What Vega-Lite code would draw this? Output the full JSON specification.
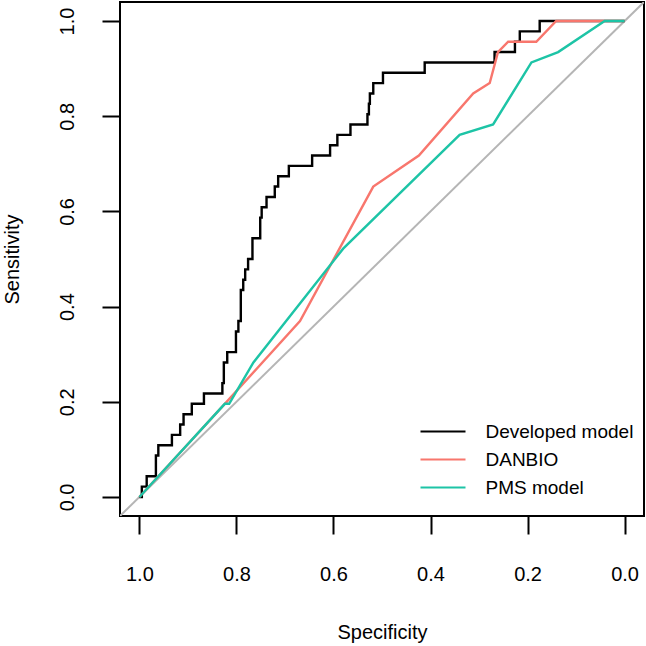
{
  "$schema": "https://vega.github.io/schema/vega-lite/v6.json",
  "width": 524,
  "height": 514,
  "autosize": {"type": "none"},
  "padding": {"left": 120, "top": 2, "right": 2, "bottom": 130},
  "background": "white",
  "config": {
    "font": "Liberation Sans",
    "view": {"stroke": "black", "strokeWidth": 2},
    "axis": {
      "domain": false,
      "grid": false,
      "tickColor": "black",
      "tickWidth": 2,
      "tickSize": 18,
      "labelColor": "black",
      "labelFontSize": 20,
      "labelFlush": false,
      "labelOverlap": false,
      "titleColor": "black",
      "titleFontSize": 20,
      "titleFontWeight": "normal"
    }
  },
  "datasets": {
    "roc": [
      {"model": "Developed model", "i": 0, "spec": 1.0, "sens": 0.0},
      {"model": "Developed model", "i": 1, "spec": 0.995, "sens": 0.0},
      {"model": "Developed model", "i": 2, "spec": 0.995, "sens": 0.0217},
      {"model": "Developed model", "i": 3, "spec": 0.985, "sens": 0.0217},
      {"model": "Developed model", "i": 4, "spec": 0.985, "sens": 0.0435},
      {"model": "Developed model", "i": 5, "spec": 0.966, "sens": 0.0435},
      {"model": "Developed model", "i": 6, "spec": 0.966, "sens": 0.087},
      {"model": "Developed model", "i": 7, "spec": 0.961, "sens": 0.087},
      {"model": "Developed model", "i": 8, "spec": 0.961, "sens": 0.1087},
      {"model": "Developed model", "i": 9, "spec": 0.933, "sens": 0.1087},
      {"model": "Developed model", "i": 10, "spec": 0.933, "sens": 0.1304},
      {"model": "Developed model", "i": 11, "spec": 0.916, "sens": 0.1304},
      {"model": "Developed model", "i": 12, "spec": 0.916, "sens": 0.1522},
      {"model": "Developed model", "i": 13, "spec": 0.909, "sens": 0.1522},
      {"model": "Developed model", "i": 14, "spec": 0.909, "sens": 0.1739},
      {"model": "Developed model", "i": 15, "spec": 0.892, "sens": 0.1739},
      {"model": "Developed model", "i": 16, "spec": 0.892, "sens": 0.1957},
      {"model": "Developed model", "i": 17, "spec": 0.867, "sens": 0.1957},
      {"model": "Developed model", "i": 18, "spec": 0.867, "sens": 0.2174},
      {"model": "Developed model", "i": 19, "spec": 0.829, "sens": 0.2174},
      {"model": "Developed model", "i": 20, "spec": 0.829, "sens": 0.2391},
      {"model": "Developed model", "i": 21, "spec": 0.826, "sens": 0.2391},
      {"model": "Developed model", "i": 22, "spec": 0.826, "sens": 0.2826},
      {"model": "Developed model", "i": 23, "spec": 0.819, "sens": 0.2826},
      {"model": "Developed model", "i": 24, "spec": 0.819, "sens": 0.3043},
      {"model": "Developed model", "i": 25, "spec": 0.801, "sens": 0.3043},
      {"model": "Developed model", "i": 26, "spec": 0.801, "sens": 0.3478},
      {"model": "Developed model", "i": 27, "spec": 0.796, "sens": 0.3478},
      {"model": "Developed model", "i": 28, "spec": 0.796, "sens": 0.3696},
      {"model": "Developed model", "i": 29, "spec": 0.791, "sens": 0.3696},
      {"model": "Developed model", "i": 30, "spec": 0.791, "sens": 0.4348},
      {"model": "Developed model", "i": 31, "spec": 0.786, "sens": 0.4348},
      {"model": "Developed model", "i": 32, "spec": 0.786, "sens": 0.4565},
      {"model": "Developed model", "i": 33, "spec": 0.782, "sens": 0.4565},
      {"model": "Developed model", "i": 34, "spec": 0.782, "sens": 0.4783},
      {"model": "Developed model", "i": 35, "spec": 0.776, "sens": 0.4783},
      {"model": "Developed model", "i": 36, "spec": 0.776, "sens": 0.5},
      {"model": "Developed model", "i": 37, "spec": 0.767, "sens": 0.5},
      {"model": "Developed model", "i": 38, "spec": 0.767, "sens": 0.5435},
      {"model": "Developed model", "i": 39, "spec": 0.751, "sens": 0.5435},
      {"model": "Developed model", "i": 40, "spec": 0.751, "sens": 0.587},
      {"model": "Developed model", "i": 41, "spec": 0.748, "sens": 0.587},
      {"model": "Developed model", "i": 42, "spec": 0.748, "sens": 0.6087},
      {"model": "Developed model", "i": 43, "spec": 0.738, "sens": 0.6087},
      {"model": "Developed model", "i": 44, "spec": 0.738, "sens": 0.6304},
      {"model": "Developed model", "i": 45, "spec": 0.721, "sens": 0.6304},
      {"model": "Developed model", "i": 46, "spec": 0.721, "sens": 0.6522},
      {"model": "Developed model", "i": 47, "spec": 0.714, "sens": 0.6522},
      {"model": "Developed model", "i": 48, "spec": 0.714, "sens": 0.6739},
      {"model": "Developed model", "i": 49, "spec": 0.692, "sens": 0.6739},
      {"model": "Developed model", "i": 50, "spec": 0.692, "sens": 0.6957},
      {"model": "Developed model", "i": 51, "spec": 0.644, "sens": 0.6957},
      {"model": "Developed model", "i": 52, "spec": 0.644, "sens": 0.7174},
      {"model": "Developed model", "i": 53, "spec": 0.607, "sens": 0.7174},
      {"model": "Developed model", "i": 54, "spec": 0.607, "sens": 0.7391},
      {"model": "Developed model", "i": 55, "spec": 0.592, "sens": 0.7391},
      {"model": "Developed model", "i": 56, "spec": 0.592, "sens": 0.7609},
      {"model": "Developed model", "i": 57, "spec": 0.565, "sens": 0.7609},
      {"model": "Developed model", "i": 58, "spec": 0.565, "sens": 0.7826},
      {"model": "Developed model", "i": 59, "spec": 0.53, "sens": 0.7826},
      {"model": "Developed model", "i": 60, "spec": 0.53, "sens": 0.8043},
      {"model": "Developed model", "i": 61, "spec": 0.527, "sens": 0.8043},
      {"model": "Developed model", "i": 62, "spec": 0.527, "sens": 0.8261},
      {"model": "Developed model", "i": 63, "spec": 0.525, "sens": 0.8261},
      {"model": "Developed model", "i": 64, "spec": 0.525, "sens": 0.8478},
      {"model": "Developed model", "i": 65, "spec": 0.518, "sens": 0.8478},
      {"model": "Developed model", "i": 66, "spec": 0.518, "sens": 0.8696},
      {"model": "Developed model", "i": 67, "spec": 0.498, "sens": 0.8696},
      {"model": "Developed model", "i": 68, "spec": 0.498, "sens": 0.8913},
      {"model": "Developed model", "i": 69, "spec": 0.412, "sens": 0.8913},
      {"model": "Developed model", "i": 70, "spec": 0.412, "sens": 0.913},
      {"model": "Developed model", "i": 71, "spec": 0.268, "sens": 0.913},
      {"model": "Developed model", "i": 72, "spec": 0.268, "sens": 0.9348},
      {"model": "Developed model", "i": 73, "spec": 0.226, "sens": 0.9348},
      {"model": "Developed model", "i": 74, "spec": 0.226, "sens": 0.9565},
      {"model": "Developed model", "i": 75, "spec": 0.216, "sens": 0.9565},
      {"model": "Developed model", "i": 76, "spec": 0.216, "sens": 0.9783},
      {"model": "Developed model", "i": 77, "spec": 0.175, "sens": 0.9783},
      {"model": "Developed model", "i": 78, "spec": 0.175, "sens": 1.0},
      {"model": "Developed model", "i": 79, "spec": 0.0, "sens": 1.0},
      {"model": "DANBIO", "i": 0, "spec": 1.0, "sens": 0.0},
      {"model": "DANBIO", "i": 1, "spec": 0.824, "sens": 0.1957},
      {"model": "DANBIO", "i": 2, "spec": 0.669, "sens": 0.3696},
      {"model": "DANBIO", "i": 3, "spec": 0.518, "sens": 0.6522},
      {"model": "DANBIO", "i": 4, "spec": 0.424, "sens": 0.7174},
      {"model": "DANBIO", "i": 5, "spec": 0.312, "sens": 0.8478},
      {"model": "DANBIO", "i": 6, "spec": 0.278, "sens": 0.8696},
      {"model": "DANBIO", "i": 7, "spec": 0.261, "sens": 0.9348},
      {"model": "DANBIO", "i": 8, "spec": 0.24, "sens": 0.9565},
      {"model": "DANBIO", "i": 9, "spec": 0.182, "sens": 0.9565},
      {"model": "DANBIO", "i": 10, "spec": 0.141, "sens": 1.0},
      {"model": "DANBIO", "i": 11, "spec": 0.0, "sens": 1.0},
      {"model": "PMS model", "i": 0, "spec": 1.0, "sens": 0.0},
      {"model": "PMS model", "i": 1, "spec": 0.824, "sens": 0.1957},
      {"model": "PMS model", "i": 2, "spec": 0.815, "sens": 0.1957},
      {"model": "PMS model", "i": 3, "spec": 0.765, "sens": 0.2826},
      {"model": "PMS model", "i": 4, "spec": 0.58, "sens": 0.5217},
      {"model": "PMS model", "i": 5, "spec": 0.34, "sens": 0.7609},
      {"model": "PMS model", "i": 6, "spec": 0.271, "sens": 0.7826},
      {"model": "PMS model", "i": 7, "spec": 0.192, "sens": 0.913},
      {"model": "PMS model", "i": 8, "spec": 0.137, "sens": 0.9348},
      {"model": "PMS model", "i": 9, "spec": 0.041, "sens": 1.0},
      {"model": "PMS model", "i": 10, "spec": 0.0, "sens": 1.0}
    ],
    "chance": [
      {"spec": 1.04, "sens": -0.04},
      {"spec": -0.04, "sens": 1.04}
    ]
  },
  "encoding": {
    "x": {
      "field": "spec",
      "type": "quantitative",
      "scale": {"domain": [-0.04, 1.04], "reverse": true, "nice": false, "zero": false},
      "axis": {
        "title": "Specificity",
        "values": [0, 0.2, 0.4, 0.6, 0.8, 1],
        "format": ".1f",
        "labelPadding": 30,
        "titleY": 116,
        "titleBaseline": "middle"
      }
    },
    "y": {
      "field": "sens",
      "type": "quantitative",
      "scale": {"domain": [-0.04, 1.04], "nice": false, "zero": false},
      "axis": {
        "title": "Sensitivity",
        "values": [0, 0.2, 0.4, 0.6, 0.8, 1],
        "format": ".1f",
        "labelAngle": -90,
        "labelAlign": "center",
        "labelBaseline": "bottom",
        "labelPadding": 25,
        "titleX": -108,
        "titleY": 257,
        "titleAngle": -90,
        "titleBaseline": "middle"
      }
    }
  },
  "layer": [
    {
      "data": {"name": "chance"},
      "mark": {"type": "line", "color": "#b5b5b5", "strokeWidth": 2, "clip": true},
      "encoding": {}
    },
    {
      "data": {"name": "roc"},
      "transform": [{"filter": "datum.model === 'Developed model'"}],
      "mark": {"type": "line", "strokeWidth": 2.4, "clip": true},
      "encoding": {
        "order": {"field": "i", "type": "quantitative"},
        "color": {
          "field": "model",
          "type": "nominal",
          "scale": {"domain": ["Developed model", "DANBIO", "PMS model"], "range": ["#000000", "#f8766d", "#1dc4a6"]},
          "legend": {
            "orient": "none",
            "legendX": 310,
            "legendY": 416.5,
            "title": null,
            "symbolType": "M-1.875,0H1.875",
            "symbolSize": 576,
            "symbolStrokeWidth": 2,
            "labelFontSize": 19,
            "labelColor": "black",
            "labelOffset": 29.5,
            "rowPadding": 5
          }
        }
      }
    },
    {
      "data": {"name": "roc"},
      "transform": [{"filter": "datum.model === 'DANBIO'"}],
      "mark": {"type": "line", "strokeWidth": 2.4, "clip": true},
      "encoding": {
        "order": {"field": "i", "type": "quantitative"},
        "color": {"field": "model", "type": "nominal"}
      }
    },
    {
      "data": {"name": "roc"},
      "transform": [{"filter": "datum.model === 'PMS model'"}],
      "mark": {"type": "line", "strokeWidth": 2.4, "clip": true},
      "encoding": {
        "order": {"field": "i", "type": "quantitative"},
        "color": {"field": "model", "type": "nominal"}
      }
    }
  ]
}
